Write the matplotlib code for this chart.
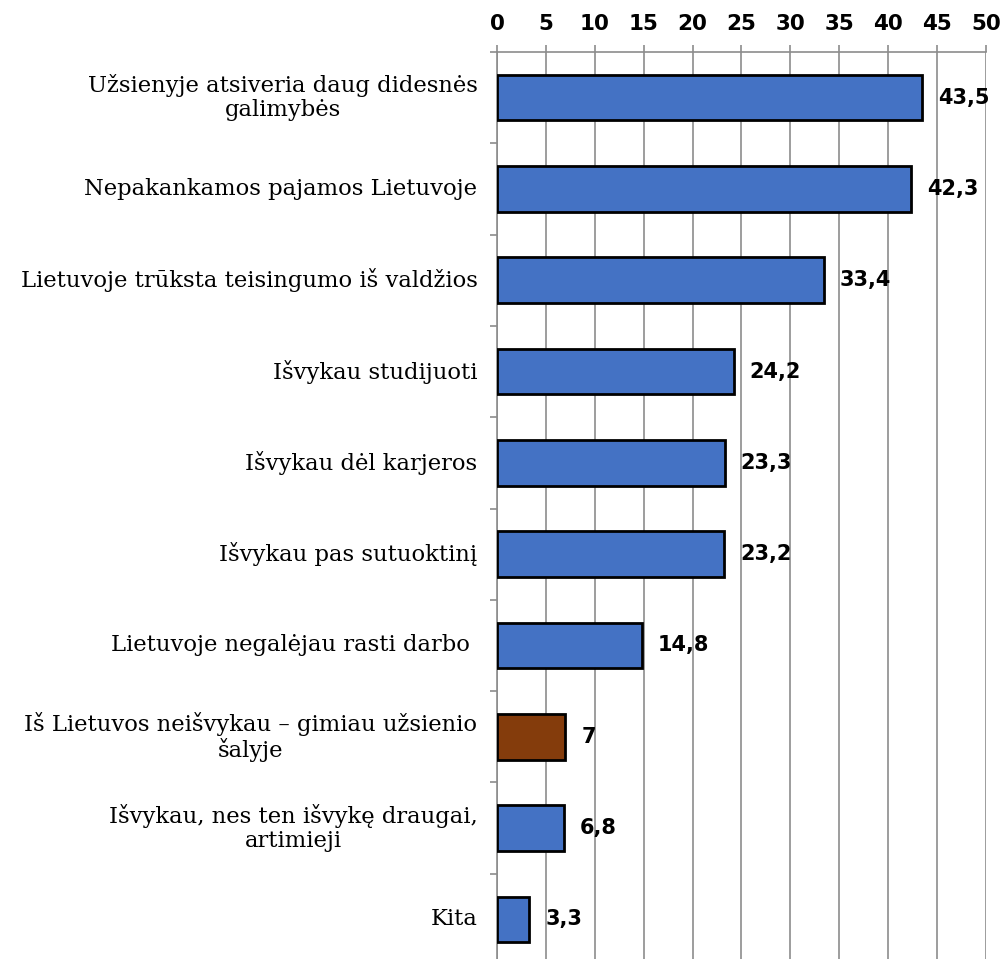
import matplotlib
matplotlib.use("Agg")
import matplotlib.pyplot as plt
from matplotlib.ticker import FixedLocator
import numpy as np

categories = [
    "Užsienyje atsiveria daug didesnės\ngalimybės",
    "Nepakankamos pajamos Lietuvoje",
    "Lietuvoje trūksta teisingumo iš valdžios",
    "Išvykau studijuoti",
    "Išvykau dėl karjeros",
    "Išvykau pas sutuoktinį",
    "Lietuvoje negalėjau rasti darbo ",
    "Iš Lietuvos neišvykau – gimiau užsienio\nšalyje",
    "Išvykau, nes ten išvykę draugai,\nartimieji",
    "Kita",
]
values = [43.5, 42.3, 33.4, 24.2, 23.3, 23.2, 14.8, 7.0, 6.8, 3.3]
value_labels = ["43,5", "42,3", "33,4", "24,2", "23,3", "23,2", "14,8", "7", "6,8", "3,3"]
colors = ["#4472C4"] * 7 + ["#843C0C"] + ["#4472C4"] * 2
xticks = [0, 5, 10, 15, 20, 25, 30, 35, 40, 45, 50]

W, H = 1003, 959
fig = plt.figure(figsize=(W / 100, H / 100), dpi=100)
left_px, right_px, top_px, bot_px = 497, 986, 52, 965
ax = fig.add_axes([left_px / W, 1 - bot_px / H, (right_px - left_px) / W, (bot_px - top_px) / H])

n = len(categories)
y = np.arange(n)
ax.barh(y, values, height=0.5, color=colors, edgecolor="black", linewidth=2, zorder=3)
ax.set_ylim(n - 0.5, -0.5)
ax.set_xlim(0, 50)

ax.xaxis.tick_top()
ax.set_xticks(xticks)
ax.set_xticklabels([str(t) for t in xticks], fontsize=15.5, fontweight="bold", family="DejaVu Sans")
ax.tick_params(axis="x", length=5, width=1.2, color="#8c8c8c", pad=8)
ax.grid(axis="x", color="#8c8c8c", linewidth=1.2, zorder=0)

ax.set_yticks([])
ax.yaxis.set_minor_locator(FixedLocator(np.arange(-0.5, n, 1.0)))
ax.tick_params(axis="y", which="minor", length=5, width=1.2, color="#8c8c8c", direction="out")

for s in ["right", "bottom"]:
    ax.spines[s].set_visible(False)
for s in ["left", "top"]:
    ax.spines[s].set_color("#8c8c8c")
    ax.spines[s].set_linewidth(1.2)

for yi, cat in zip(y, categories):
    ax.text(-0.04, yi, cat, transform=ax.get_yaxis_transform(), ha="right", va="center",
            multialignment="center", fontsize=16.3, family="DejaVu Serif", linespacing=1.1,
            color="black")

for yi, v, lab in zip(y, values, value_labels):
    ax.annotate(lab, (v, yi), xytext=(16, 0), textcoords="offset pixels",
                ha="left", va="center", fontsize=15, fontweight="bold", family="DejaVu Sans")

fig.savefig("out.png", dpi=100)
